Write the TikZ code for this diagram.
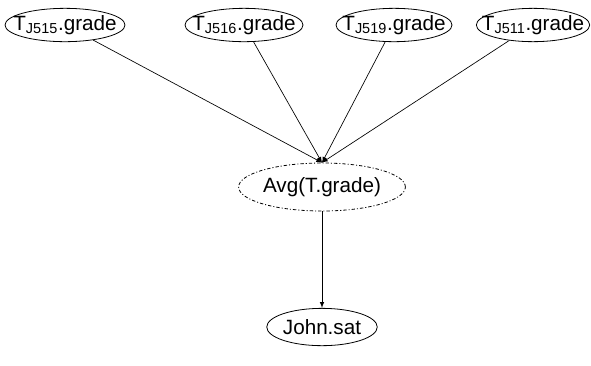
\documentclass[tikz,border=0pt]{standalone}
\usepackage{fontspec}
\setmainfont{Liberation Sans}
\usetikzlibrary{shapes.geometric}
\begin{document}
\begin{tikzpicture}[x=0.75pt, y=-0.75pt, font=\fontsize{15.5}{18}\selectfont,
	attr/.style={draw=black, ellipse, inner sep=0pt, minimum height=25pt, line width=0.6pt},
	agg/.style={attr, dash pattern=on 2.5pt off 1.5pt on 0.8pt off 1.5pt}]
	\useasboundingbox (0,0) rectangle (591,365);
	\foreach \i/\x/\w in {1/65/90pt, 2/244/88.5pt, 3/394/87pt, 4/533/85pt}
	{
		\node[attr, minimum width=\w] (t\i) at (\x, 25) {};
	}
	\node at (t1) {T\textsubscript{J515}.grade};
	\node at (t2) {T\textsubscript{J516}.grade};
	\node at (t3) {T\textsubscript{J519}.grade};
	\node at (t4) {T\textsubscript{J511}.grade};

	\node[agg, minimum width=106pt, minimum height=36pt] (avg) at (322, 187) {Avg(T.grade)};
	\node[attr, minimum width=82pt, minimum height=28pt] (john) at (322, 327) {John.sat};

	\foreach \i in {1,2,3,4}
	{
		\draw [-latex, line width=0.5pt] (t\i) -- (avg.north);
	}
	\draw [-latex, line width=0.5pt] (avg) -- (john);
\end{tikzpicture}
\end{document}
